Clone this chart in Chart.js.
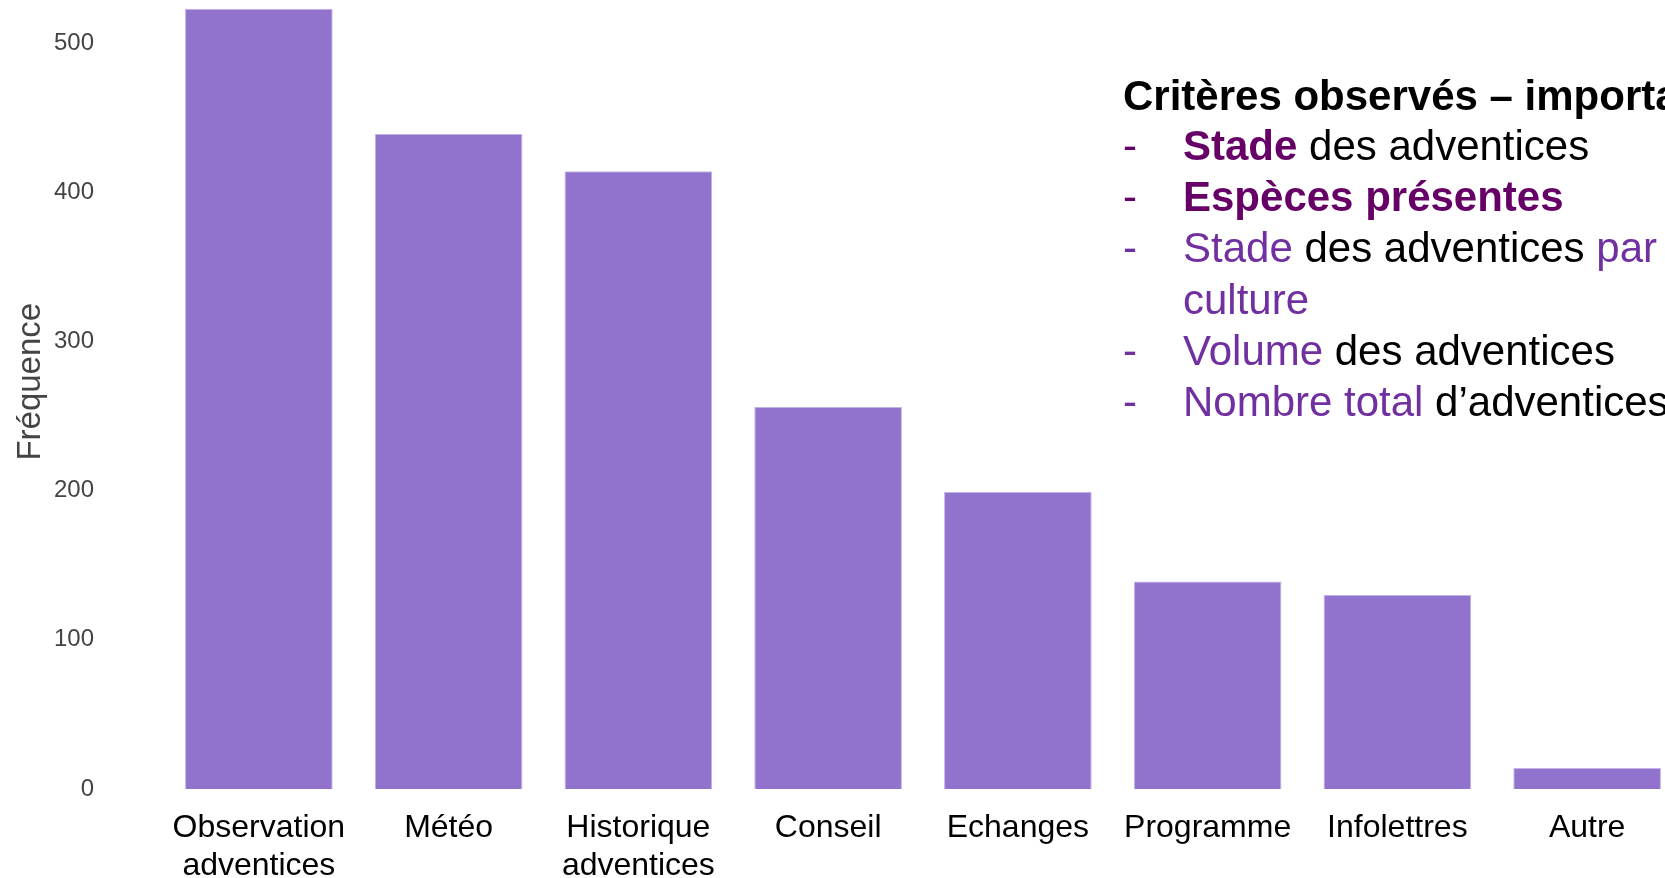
<!DOCTYPE html>
<html>
<head>
<meta charset="utf-8">
<script src="https://cdn.jsdelivr.net/npm/chart.js@4.4.1/dist/chart.umd.min.js"></script>
<style>
  html, body { margin: 0; padding: 0; background: #fff; overflow: hidden; }
  #wrap { position: relative; width: 1665px; height: 878px; overflow: hidden; }
  #chart { position: absolute; left: 0; top: -40px; }
</style>
</head>
<body>
<div id="wrap"><canvas id="chart" width="1700" height="918"></canvas></div>
<script>
// data
const categories = [
    ['Observation', 'adventices'], 'Météo', ['Historique', 'adventices'], 'Conseil',
    'Echanges', 'Programme', 'Infolettres', 'Autre'
];
const frequences = [523, 439, 414, 256, 199, 139, 130, 14];
const yTicks = [0, 100, 200, 300, 400, 500];

// side note text (each line = list of [text, colour, bold])
const DARK = '#660066';
const LIGHT = '#7030a0';
const noteTitle = 'Critères observés – importance';
const noteLines = [
    [['-', DARK, false], ['Stade', DARK, true], [' des adventices', '#000', false]],
    [['-', DARK, false], ['Espèces présentes', DARK, true]],
    [['-', LIGHT, false], ['Stade', LIGHT, false], [' des adventices ', '#000', false], ['par', LIGHT, false]],
    [['', LIGHT, false], ['culture', LIGHT, false]],
    [['-', LIGHT, false], ['Volume', LIGHT, false], [' des adventices', '#000', false]],
    [['-', LIGHT, false], ['Nombre total', LIGHT, false], [' d’adventices', '#000', false]]
];

const FONT = '"Liberation Sans", Arial, sans-serif';
const OFF = 40; // canvas is shifted up by this

const notePlugin = {
    id: 'note',
    afterDraw(chart) {
        const ctx = chart.ctx;
        ctx.save();
        ctx.textBaseline = 'alphabetic';
        ctx.textAlign = 'left';
        ctx.fillStyle = '#000';
        ctx.font = 'bold 42px ' + FONT;
        ctx.fillText(noteTitle, 1123, 110 + OFF);
        noteLines.forEach((line, i) => {
            const y = 160 + i * 51.2 + OFF;
            let x = 1183;
            line.forEach((seg, j) => {
                ctx.font = (seg[2] ? 'bold ' : '') + '42px ' + FONT;
                ctx.fillStyle = seg[1];
                if (j === 0) {
                    ctx.font = '42px ' + FONT;
                    ctx.fillText(seg[0], 1123, y);
                    return;
                }
                ctx.fillText(seg[0], x, y);
                x += ctx.measureText(seg[0]).width;
            });
        });
        ctx.restore();
    }
};

const ctx = document.getElementById('chart').getContext('2d');
const chart = new Chart(ctx, {
    type: 'bar',
    data: {
        labels: categories,
        datasets: [{
            data: frequences,
            backgroundColor: '#9172cd',
            borderColor: '#c3b2e8',
            borderWidth: 1,
            categoryPercentage: 1,
            barPercentage: 0.778
        }]
    },
    options: {
        responsive: false,
        devicePixelRatio: 1,
        animation: false,
        layout: { padding: { left: 0, right: 18, top: 0, bottom: 0 } },
        plugins: {
            legend: { display: false },
            tooltip: { enabled: false }
        },
        scales: {
            x: {
                grid: { display: false, drawTicks: false },
                border: { display: false },
                ticks: {
                    color: '#000',
                    padding: 21,
                    maxRotation: 0,
                    autoSkip: false,
                    font: { family: FONT, size: 32, lineHeight: 1.16 }
                },
                afterFit(scale) { scale.height = 89; }
            },
            y: {
                min: 0,
                max: 546,
                grid: { display: false, drawTicks: true, tickLength: 70 },
                border: { display: false },
                ticks: {
                    color: '#444',
                    padding: 0,
                    font: { family: FONT, size: 24 }
                },
                afterBuildTicks(scale) {
                    scale.ticks = yTicks.map(v => ({ value: v }));
                },
                title: {
                    display: true,
                    text: 'Fréquence',
                    color: '#444',
                    padding: { top: 11, bottom: 0 },
                    font: { family: FONT, size: 33 }
                },
                afterFit(scale) { scale.width = 164; }
            }
        }
    },
    plugins: [notePlugin]
});
</script>
</body>
</html>
